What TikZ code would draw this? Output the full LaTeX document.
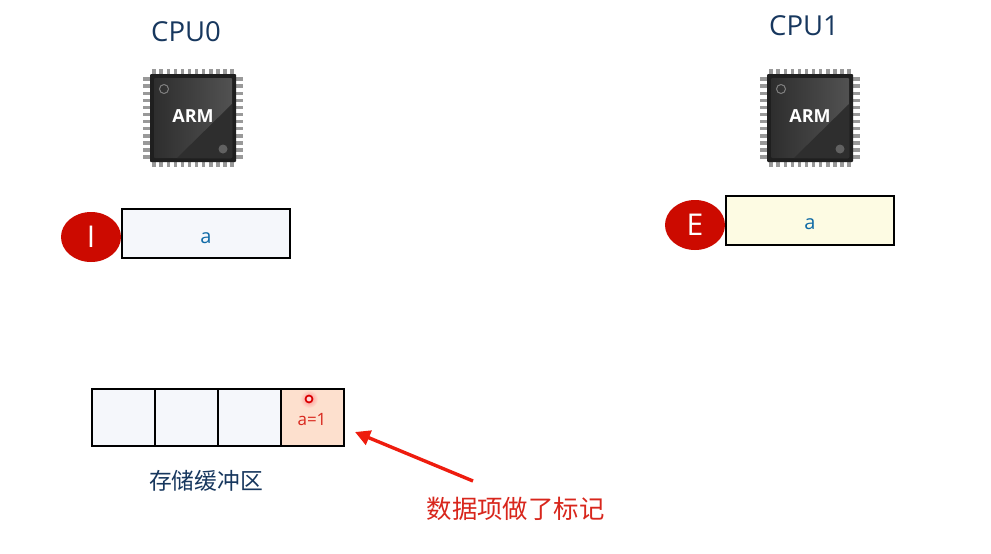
\documentclass[tikz,border=0pt]{standalone}
\usepackage{fontspec}
\setmainfont{Open Sans}
\newfontfamily\cjk{Noto Sans CJK SC}
\usetikzlibrary{arrows.meta,calc,shadows,shapes.geometric}
\definecolor{navy}{HTML}{17375E}
\definecolor{iblue}{HTML}{0F6AA6}
\definecolor{cellfill}{HTML}{F5F7FB}
\definecolor{yellowfill}{HTML}{FDFBE3}
\definecolor{markfill}{HTML}{FDE0CE}
\definecolor{badge}{HTML}{CC0A00}
\definecolor{redtxt}{HTML}{D8261C}
\definecolor{arrowred}{HTML}{EE1C0E}
\tikzset{
  title/.style={text=navy,font=\fontsize{27.5}{28}\selectfont},
  cacheline/.style={draw=black,line width=2pt,minimum width=168pt,minimum height=49pt,inner sep=0pt},
  cachetext/.style={text=iblue,font=\fontsize{20}{20}\selectfont,inner sep=0pt},
  state/.style={ellipse,fill=badge,minimum width=60pt,minimum height=50pt,inner sep=0pt,text=white,font=\fontsize{30}{30}\selectfont},
  bufcell/.style={draw=black,line width=2pt,fill=cellfill,minimum width=63pt,minimum height=57pt,inner sep=0pt},
  pin/.style={line width=3.4pt,color=black!40},
  pics/chip/.style={code={
    \foreach \i in {0,...,11}{
      \draw[pin] (-39+\i*7.1,-49) -- (-39+\i*7.1,-42);
      \draw[pin] (-39+\i*7.1,42) -- (-39+\i*7.1,49);
      \draw[pin] (-50,-39+\i*7.1) -- (-42,-39+\i*7.1);
      \draw[pin] (42,-39+\i*7.1) -- (50,-39+\i*7.1);
    }
    \fill[black!88,rounded corners=1pt] (-43,-44) rectangle (43,44);
    \shade[left color=black!82,right color=black!68,rounded corners=1pt] (-39,-40) rectangle (39,40);
    \fill[black!82] (39,-14) -- (39,40) -- (-16,40) -- cycle;
    \draw[black!50,line width=1pt] (-29,-29) circle (4.5pt);
    \fill[black!62] (30,31) circle (4.5pt);
    \node[text=white,font=\bfseries\fontsize{18}{18}\selectfont,inner sep=0pt] (-label) at (0,-2) {ARM};
  }}
}
\begin{document}
\begin{tikzpicture}[x=1pt,y=-1pt]
\useasboundingbox (0,0) rectangle (991,554);
\fill[white] (0,0) rectangle (991,554);
\node[title] (cpu0) at (186,32) {CPU0};
\node[title] (cpu1) at (804,26) {CPU1};
\pic (chipa) at (193,118) {chip};
\pic (chipb) at (810,118) {chip};
\node[cacheline,fill=cellfill] (la) at (206,233.5) {};
\node[cachetext] (lat) at (206,238) {a};
\node[state] (si) at (91,237) {I};
\node[cacheline,fill=yellowfill] (lb) at (810,220.5) {};
\node[cachetext] (lbt) at (810,224) {a};
\node[state] (se) at (695,225) {E};
\node[bufcell] (b1) at (123.5,417.5) {};
\node[bufcell] (b2) at (186.5,417.5) {};
\node[bufcell] (b3) at (249.5,417.5) {};
\node[bufcell,fill=markfill] (b4) at (312.5,417.5) {};
\shade[inner color=red!45,outer color=markfill] (309,399) circle (9pt);
\node[circle,draw=red!85!black,line width=1.7pt,fill=red!15,minimum size=7pt,inner sep=0pt] (dot) at (309,399) {};
\node[text=redtxt,font=\fontsize{17}{17}\selectfont,inner sep=0pt] (al) at (312,420) {a=1};
\node[text=navy,font=\cjk\fontsize{22.8}{23}\selectfont,inner sep=0pt] (cap) at (206,481) {存储缓冲区};
\node[text=redtxt,font=\cjk\fontsize{25.4}{26}\selectfont,inner sep=0pt] (note) at (515.5,509) {数据项做了标记};
\coordinate (tail) at (473,481);
\coordinate (tip) at (355,432);
\draw[arrowred,line width=3.4pt,-{Triangle[length=15pt,width=15pt]}] (tail) -- (tip);
\end{tikzpicture}
\end{document}
